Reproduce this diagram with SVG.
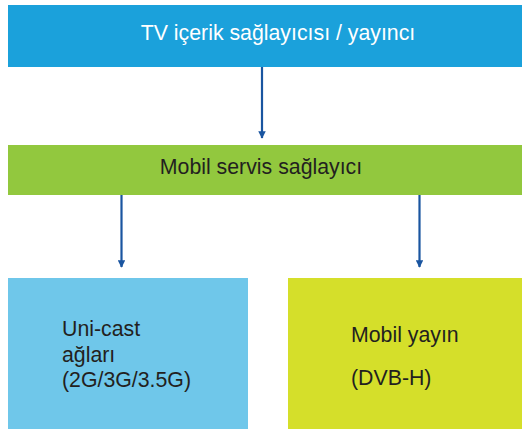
<svg xmlns="http://www.w3.org/2000/svg" width="522" height="429" viewBox="0 0 522 429">
<style>
text{font-family:"Liberation Sans",Arial,sans-serif;font-size:21.3px;fill:#231f20}
.w{fill:#ffffff}
.c{stroke:#1a55a0;stroke-width:2.2;fill:none}
</style>
<defs>
<marker id="ah" viewBox="0 0 10 10" refX="9" refY="5" markerWidth="3.4" markerHeight="3.4" orient="auto" markerUnits="strokeWidth">
<path d="M0,0 L10,5 L0,10 Z" fill="#1a55a0"/>
</marker>
</defs>
<rect width="522" height="429" fill="#ffffff"/>
<g id="n-tv">
<rect x="8" y="5" width="514" height="62" fill="#1ba1db"/>
<text class="w" x="278" y="39.5" text-anchor="middle">TV içerik sağlayıcısı / yayıncı</text>
</g>
<g id="n-mobil">
<rect x="8" y="145" width="514" height="50" fill="#92c83e"/>
<text x="261" y="173.5" text-anchor="middle">Mobil servis sağlayıcı</text>
</g>
<g id="n-unicast">
<rect x="8" y="278" width="240" height="151" fill="#6fc7ea"/>
<text x="62" y="336">Uni-cast</text>
<text x="62" y="361.7">ağları</text>
<text x="62" y="387.4">(2G/3G/3.5G)</text>
</g>
<g id="n-dvbh">
<rect x="288" y="278" width="234" height="151" fill="#d5df2a"/>
<text x="351" y="342">Mobil yayın</text>
<text x="351" y="385">(DVB-H)</text>
</g>
<g id="connectors">
<line class="c" x1="262" y1="67" x2="262" y2="138" marker-end="url(#ah)"/>
<line class="c" x1="121.5" y1="195" x2="121.5" y2="267" marker-end="url(#ah)"/>
<line class="c" x1="419.5" y1="195" x2="419.5" y2="267" marker-end="url(#ah)"/>
</g>
</svg>
